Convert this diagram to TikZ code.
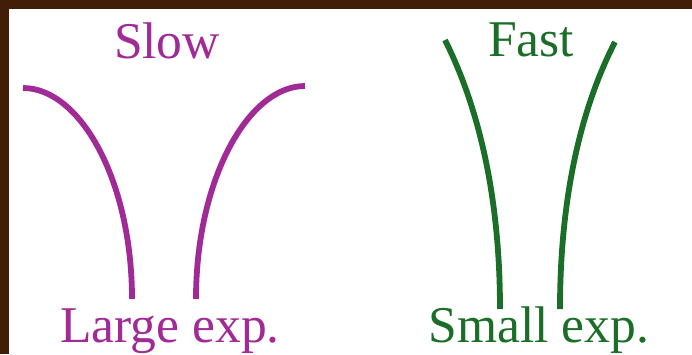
\documentclass[tikz,border=0pt]{standalone}
\usepackage{fontspec}
\setmainfont{Liberation Serif}
\usetikzlibrary{positioning}

\definecolor{slowpurple}{RGB}{160,42,150}
\definecolor{fastgreen}{RGB}{27,110,40}
\definecolor{frame}{RGB}{66,30,8}

\begin{document}
\begin{tikzpicture}[x=0.03cm,y=-0.03cm,
    label text/.style={anchor=base,inner sep=0pt,font=\fontsize{44}{44}\selectfont},
    tube/.style={line width=5.8*0.03cm}]
  \useasboundingbox (0,0) rectangle (692,354);
  \fill[frame] (0,0) rectangle (692,354);
  \fill[white] (9,9) rectangle (692,354);
  % slow: wide opening
  \node[label text,text=slowpurple] (slow) at (167,58) {Slow};
  \draw[tube,slowpurple] (23,88) .. controls (80,88) and (132,180) .. (132,299);
  \draw[tube,slowpurple] (196,299) .. controls (196,180) and (248,86) .. (305,86);
  \node[label text,text=slowpurple] (large) at (170,342) {Large exp.};
  % fast: narrow opening
  \node[label text,text=fastgreen] (fast) at (531,56) {Fast};
  \draw[tube,fastgreen] (445,40) .. controls (480,110) and (500,200) .. (500,309);
  \draw[tube,fastgreen] (560,309) .. controls (560,200) and (580,110) .. (615,42);
  \node[label text,text=fastgreen] (small) at (539,342) {Small exp.};
\end{tikzpicture}
\end{document}
